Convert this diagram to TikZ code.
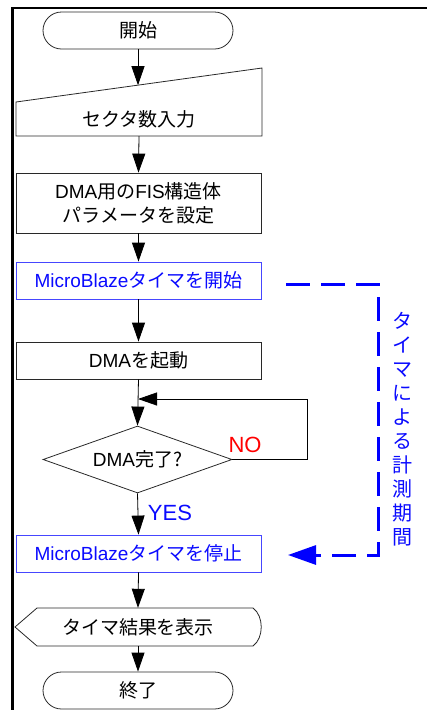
\documentclass[tikz,border=0pt]{standalone}
\usepackage{fontspec}
\setmainfont{Liberation Sans}
\newfontfamily\J{Noto Sans CJK JP}
\usetikzlibrary{arrows.meta,shapes.geometric}
\definecolor{boxblue}{RGB}{70,70,255}
\definecolor{txtblue}{RGB}{10,10,255}
\definecolor{edge}{RGB}{40,40,40}
\begin{document}
\begin{tikzpicture}[x=1pt,y=-1pt,
  font=\fontsize{19}{23}\selectfont,
  shapeline/.style={draw=edge, line width=0.8pt},
  box/.style={shapeline, minimum width=245pt, minimum height=37pt, inner sep=0pt},
  term/.style={box, minimum width=190pt, rounded corners=18.5pt},
  bluebox/.style={box, draw=boxblue, text=txtblue},
  bare/.style={minimum width=245pt, inner sep=0pt},
  flow/.style={draw=black, line width=0.8pt, -{Triangle[length=19pt,width=13pt]}},
  meas/.style={draw=blue, line width=3pt, dash pattern=on 24pt off 11pt,
    -{Triangle[length=28pt,width=19pt]}},
  lbl/.style={font=\fontsize{22}{26}\selectfont, inner sep=0pt}
]
\useasboundingbox (0,0) rectangle (427,710);
% frame
\draw[line width=2.6pt] (12.3,710) -- (12.3,8) -- (427,8);

% shapes
\node[term] (start) at (138,30.5) {\J 開始};

\draw[shapeline] (16,102) -- (262,68) -- (262,136) -- (16,136) -- cycle;
\node[bare, minimum height=34pt] (input) at (139,119) {\J セクタ数入力};
\coordinate (inTop) at (138,85.2);

\node[box, minimum height=60pt, align=center] (dma) at (138.5,203)
  {DMA{\J 用の}FIS{\J 構造体}\\[1pt]{\J パラメータを設定}};
\node[bluebox] (mbs) at (138.5,280.5) {MicroBlaze{\J タイマを開始}};
\node[box] (boot) at (138.5,360.5) {DMA{\J を起動}};
\node[diamond, shapeline, minimum width=189pt, minimum height=67pt,
  inner sep=0pt, aspect=2.8] (dec) at (137.5,459.5) {DMA{\J 完了?}};
\node[bluebox] (mbe) at (138.5,553.5) {MicroBlaze{\J タイマを停止}};

\draw[shapeline] (37,608) -- (253,608) .. controls (264,616) and (264,638) .. (253,646)
  -- (37,646) -- (15,627) -- cycle;
\node[bare, minimum height=38pt] (disp) at (138,627) {\J タイマ結果を表示};

\node[term] (end) at (138,690.5) {\J 終了};

% connectors
\draw[flow] (start.south) -- (inTop);
\draw[flow] (input.south) -- (dma.north);
\draw[flow] (dma.south) -- (mbs.north);
\draw[flow] (mbs.south) -- (boot.north);
\draw[flow] (boot.south) -- (dec.north);
\coordinate (loopin) at (138,399);
\draw[flow] (dec.east) -- ++(75,0) |- (loopin);
\draw[flow] (dec.south) -- (mbe.north);
\draw[flow] (mbe.south) -- (disp.north);
\draw[flow] (disp.south) -- (end.north);

\node[lbl, text=red] (no) at (245,445) {NO};
\node[lbl, text=txtblue] (yes) at (170,513) {YES};

% measurement bracket
\coordinate (m1) at (286,284);
\coordinate (m2) at (378,284);
\coordinate (m3) at (378,555);
\coordinate (m4) at (288,555);
\draw[meas] (m1) -- (m2) -- (m3) -- (m4);
\node[text=txtblue, align=center, inner sep=0pt,
  font=\J\fontsize{20}{24}\selectfont] (vt) at (402,429)
  {タ\\イ\\マ\\に\\よ\\る\\計\\測\\期\\間};
\end{tikzpicture}
\end{document}
